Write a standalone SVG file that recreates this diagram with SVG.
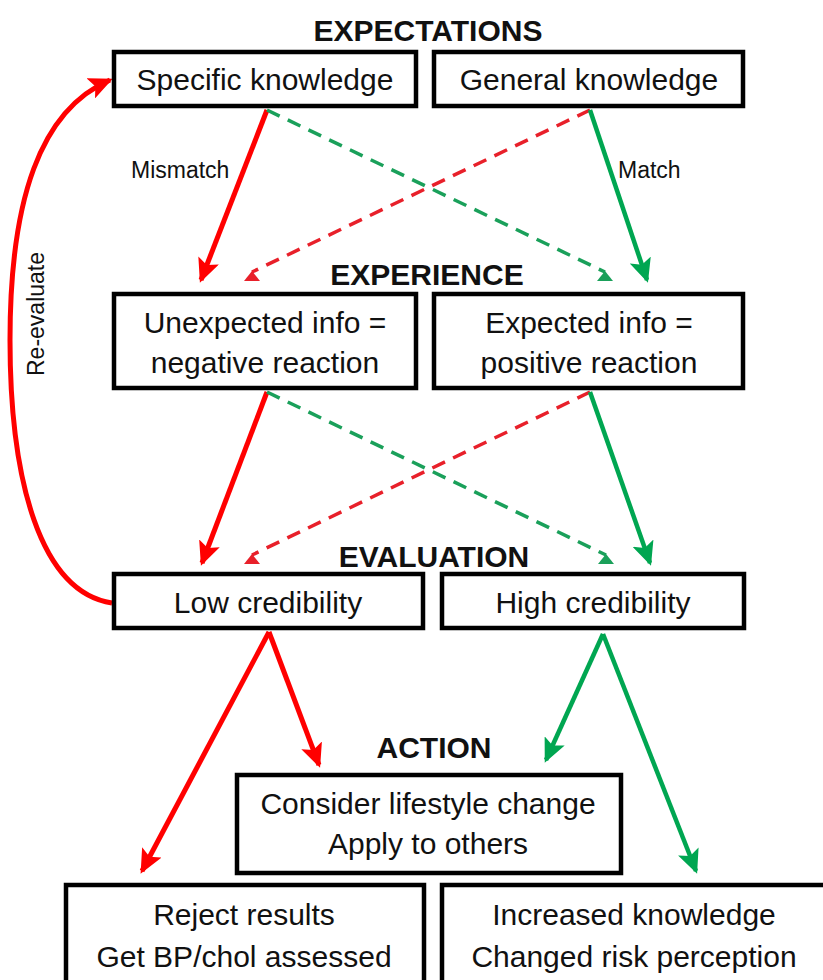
<svg xmlns="http://www.w3.org/2000/svg" width="823" height="980" viewBox="0 0 823 980">
<style>
text{font-family:"Liberation Sans",Arial,sans-serif;fill:#111}
.box{fill:#fff;stroke:#000;stroke-width:4.5}
.t{font-size:30px;text-anchor:middle}
.h{font-size:30px;font-weight:bold;text-anchor:middle}
.lbl{font-size:23px}
.rs{stroke:#ff0000;stroke-width:5;fill:none}
.gs{stroke:#00a651;stroke-width:4.5;fill:none}
.rd{stroke:#e8202a;stroke-width:3.5;fill:none;stroke-dasharray:14 9}
.gd{stroke:#1aa05a;stroke-width:3.5;fill:none;stroke-dasharray:14 9}
</style>
<defs>
<marker id="ar" markerUnits="userSpaceOnUse" markerWidth="26" markerHeight="22" refX="21" refY="11" orient="auto"><path d="M0,0 L24,11 L0,22 L5,11 Z" fill="#ff0000"/></marker>
<marker id="ag" markerUnits="userSpaceOnUse" markerWidth="26" markerHeight="22" refX="21" refY="11" orient="auto"><path d="M0,0 L24,11 L0,22 L5,11 Z" fill="#00a651"/></marker>
<marker id="tr" markerUnits="userSpaceOnUse" markerWidth="18" markerHeight="12" refX="9" refY="2" orient="0"><path d="M1,11 L9,1 L17,11 Z" fill="#e8202a"/></marker>
<marker id="tg" markerUnits="userSpaceOnUse" markerWidth="18" markerHeight="12" refX="9" refY="2" orient="0"><path d="M1,11 L9,1 L17,11 Z" fill="#1aa05a"/></marker>
</defs>
<rect width="823" height="980" fill="#fff"/>

<g id="titles">
<text class="h" x="428" y="41">EXPECTATIONS</text>
<text class="h" x="427" y="285">EXPERIENCE</text>
<text class="h" x="434" y="567">EVALUATION</text>
<text class="h" x="434" y="758">ACTION</text>
</g>

<g id="connectors">
<path class="rs" d="M267,110 L201,280" marker-end="url(#ar)"/>
<path class="gd" d="M267,110 L605,272" marker-end="url(#tg)"/>
<path class="rd" d="M590,110 L252,272" marker-end="url(#tr)"/>
<path class="gs" d="M590,110 L647,280" marker-end="url(#ag)"/>
<path class="rs" d="M267,392 L202,563" marker-end="url(#ar)"/>
<path class="gd" d="M267,392 L606,555" marker-end="url(#tg)"/>
<path class="rd" d="M590,392 L252,555" marker-end="url(#tr)"/>
<path class="gs" d="M590,392 L650,563" marker-end="url(#ag)"/>
<path class="rs" d="M269,632 L142,871" marker-end="url(#ar)"/>
<path class="rs" d="M269,632 L319,765" marker-end="url(#ar)"/>
<path class="gs" d="M603,634 L546,760" marker-end="url(#ag)"/>
<path class="gs" d="M603,634 L696,871" marker-end="url(#ag)"/>
<path class="rs" d="M112,603 C 40,592 10,480 10,340 C 10,200 40,110 110,80" marker-end="url(#ar)"/>
<text class="lbl" x="131" y="178">Mismatch</text>
<text class="lbl" x="618" y="178">Match</text>
<text class="lbl" transform="translate(44,314) rotate(-90)" text-anchor="middle">Re-evaluate</text>
</g>

<g id="specific">
<rect class="box" x="114" y="52" width="302" height="54"/>
<text class="t" x="265" y="90">Specific knowledge</text>
</g>
<g id="general">
<rect class="box" x="434" y="52" width="309" height="54"/>
<text class="t" x="589" y="90">General knowledge</text>
</g>
<g id="unexpected">
<rect class="box" x="114" y="294" width="302" height="94"/>
<text class="t" x="265" y="333">Unexpected info =</text>
<text class="t" x="265" y="373">negative reaction</text>
</g>
<g id="expected">
<rect class="box" x="434" y="294" width="309" height="94"/>
<text class="t" x="589" y="333">Expected info =</text>
<text class="t" x="589" y="373">positive reaction</text>
</g>
<g id="low">
<rect class="box" x="114" y="574" width="309" height="54"/>
<text class="t" x="268" y="613">Low credibility</text>
</g>
<g id="high">
<rect class="box" x="442" y="574" width="302" height="54"/>
<text class="t" x="593" y="613">High credibility</text>
</g>
<g id="consider">
<rect class="box" x="237" y="775" width="384" height="98"/>
<text class="t" x="428" y="814">Consider lifestyle change</text>
<text class="t" x="428" y="854">Apply to others</text>
</g>
<g id="reject">
<rect class="box" x="66" y="885" width="358" height="110"/>
<text class="t" x="244" y="925">Reject results</text>
<text class="t" x="244" y="967">Get BP/chol assessed</text>
</g>
<g id="increased">
<rect class="box" x="442" y="885" width="400" height="110"/>
<text class="t" x="634" y="925">Increased knowledge</text>
<text class="t" x="634" y="967">Changed risk perception</text>
</g>
</svg>
